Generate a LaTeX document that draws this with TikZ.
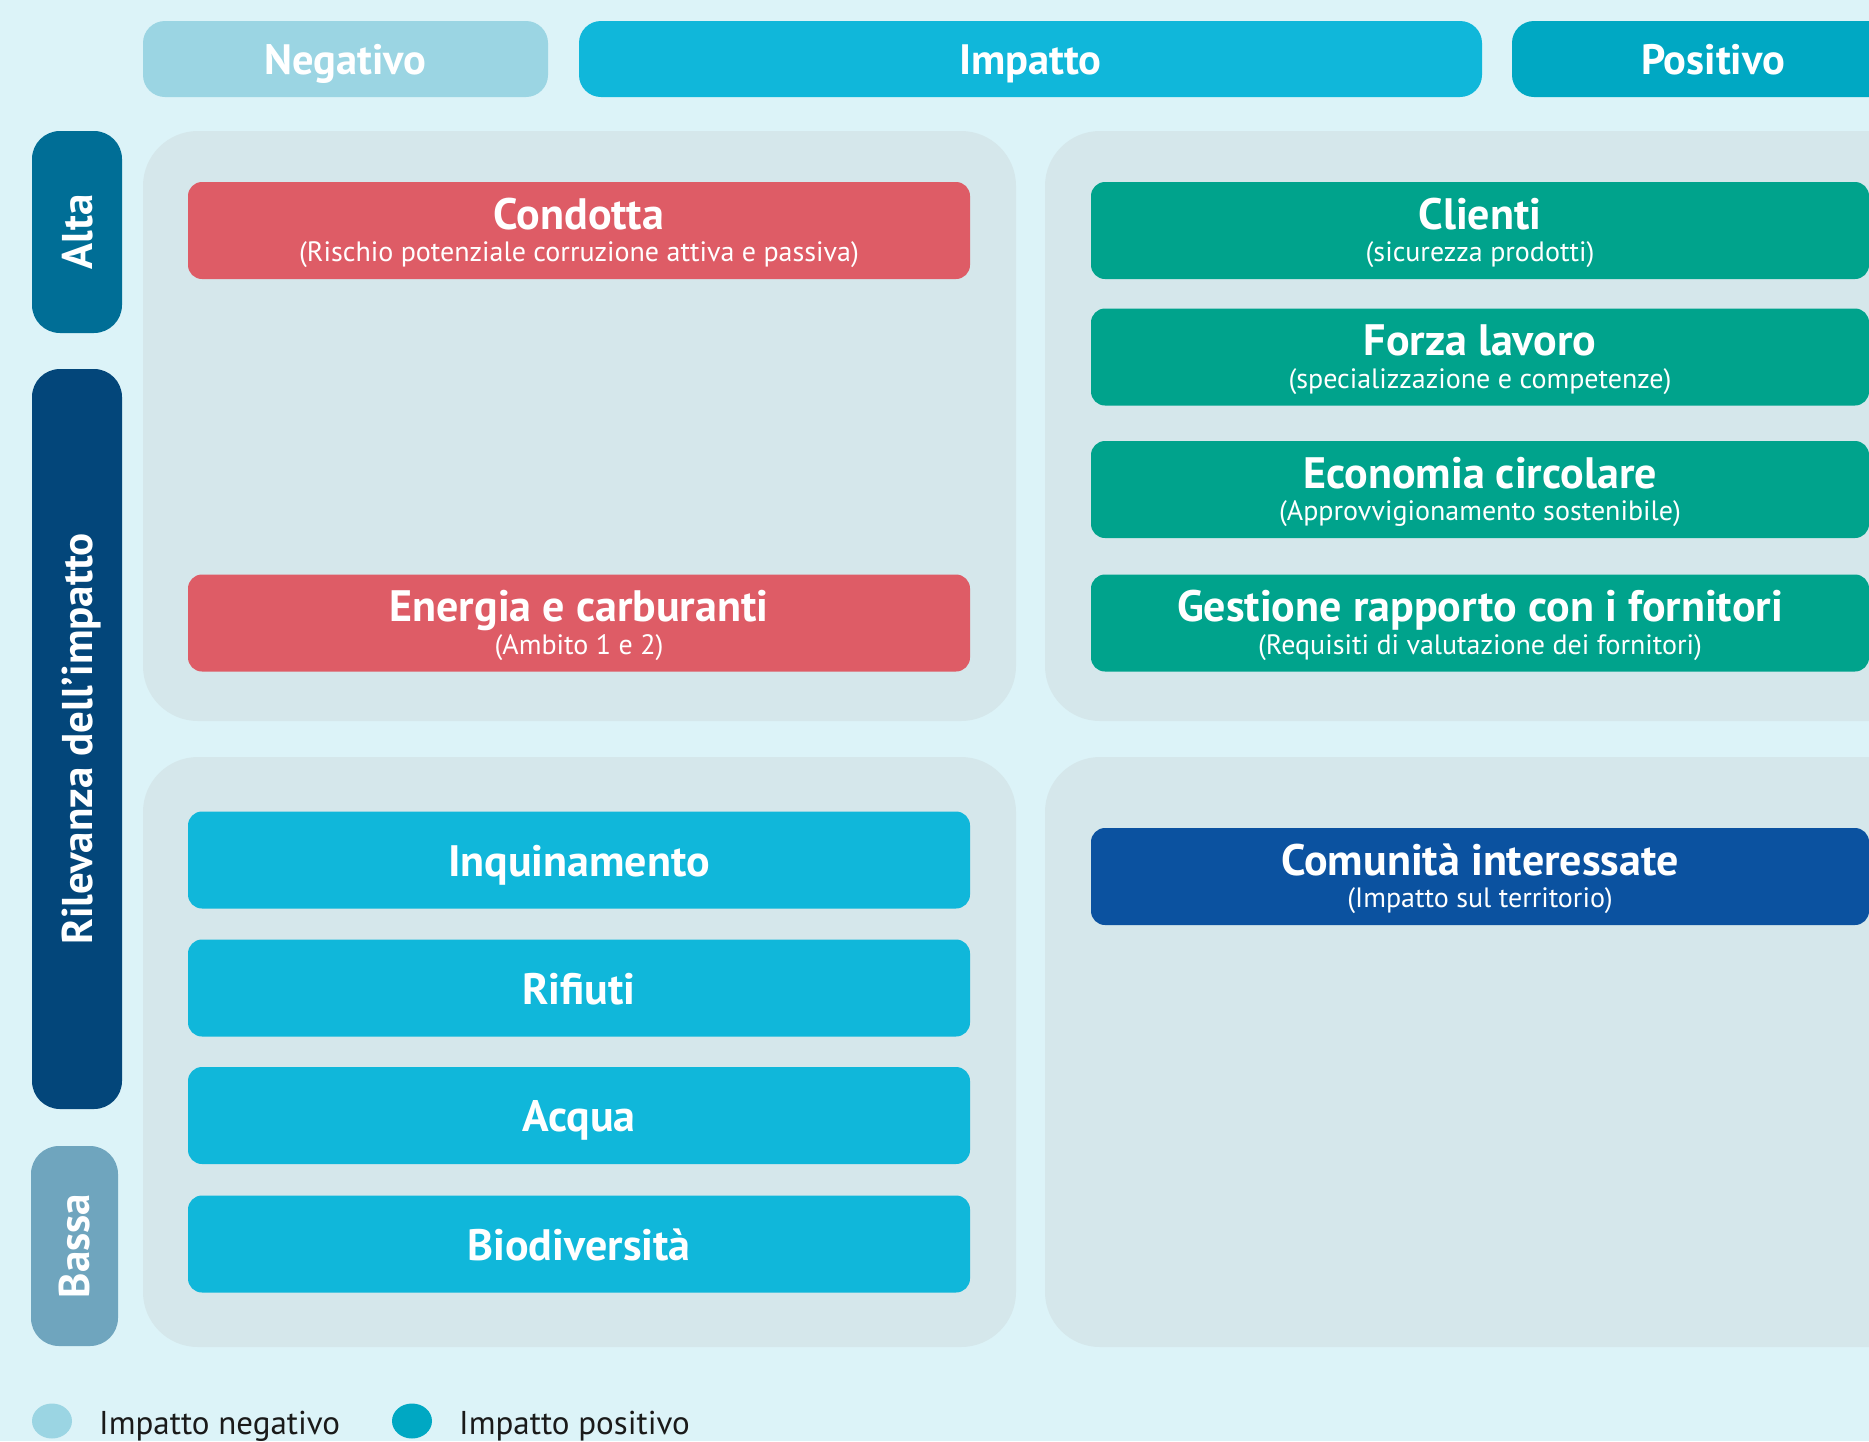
\documentclass[tikz,border=0pt]{standalone}
\usepackage{fontspec}
\setmainfont{PT Sans}
\usetikzlibrary{shapes.geometric}
\definecolor{bg}{HTML}{DCF3F8}
\definecolor{panel}{HTML}{D5E7EB}
\definecolor{negc}{HTML}{9BD5E3}
\definecolor{impc}{HTML}{10B7DA}
\definecolor{posc}{HTML}{00A8C3}
\definecolor{altac}{HTML}{006E96}
\definecolor{rilc}{HTML}{03467A}
\definecolor{bassac}{HTML}{6FA5BE}
\definecolor{redc}{HTML}{DE5C66}
\definecolor{greenc}{HTML}{00A38C}
\definecolor{bluec}{HTML}{0B52A0}
\definecolor{cyanc}{HTML}{10B7DA}
\definecolor{legtext}{HTML}{1A1A1A}
\newcommand\vlabel[1]{\rotatebox{90}{\raisebox{0pt}[30pt][0pt]{#1}}}
\begin{document}
\begin{tikzpicture}[x=1pt,y=-1pt,
  pill/.style={rounded corners=22, minimum height=76, inner sep=0, text=white,
    text height=30, text depth=0,
    font=\fontsize{42.5}{42.5}\selectfont\bfseries},
  side/.style={rounded corners=28, inner sep=0, text=white,
    font=\fontsize{43}{43}\selectfont\bfseries},
  panelbox/.style={fill=panel, rounded corners=55},
  itembox/.style={rounded corners=14, minimum height=97, inner sep=0},
  ttl/.style={font=\fontsize{44}{44}\selectfont\bfseries, text=white, anchor=base, inner sep=0},
  sub/.style={font=\fontsize{28}{28}\selectfont, text=white, anchor=base, inner sep=0},
  legdot/.style={ellipse, minimum width=40, minimum height=35, inner sep=0},
  legtxt/.style={font=\fontsize{33}{33}\selectfont, text=legtext, anchor=base west, inner sep=0}
]
\useasboundingbox (0,0) rectangle (1869,1441);
\clip (0,0) rectangle (1869,1441);
\fill[bg] (0,0) rectangle (1869,1441);

% header
\node[pill, fill=negc, minimum width=405] (neg) at (345.5,59) {Negativo};
\node[pill, fill=impc, minimum width=903] (imp) at (1030.5,59) {Impatto};
\node[pill, fill=posc, minimum width=402] (pos) at (1713,59) {Positivo};

% side labels
\node[side, fill=altac, minimum width=90, minimum height=202] (alta) at (77,232) {\vlabel{Alta}};
\node[side, fill=rilc, minimum width=90, minimum height=740] (ril) at (77,739) {\vlabel{Rilevanza dell’impatto}};
\node[side, fill=bassac, minimum width=87, minimum height=200] (bassa) at (74.5,1246) {\vlabel{Bassa}};

% panels
\fill[panelbox] (143,131) rectangle (1016,721);
\fill[panelbox] (1045,131) rectangle (1930,721);
\fill[panelbox] (143,757) rectangle (1016,1347);
\fill[panelbox] (1045,757) rectangle (1930,1347);

% left boxes
\node[itembox, fill=redc, minimum width=782] (condotta) at (579,230.5) {};
\node[ttl] (condottaT) at (579,229) {Condotta};
\node[sub] (condottaS) at (579,261.5) {(Rischio potenziale corruzione attiva e passiva)};

\node[itembox, fill=redc, minimum width=782] (energia) at (579,623) {};
\node[ttl] (energiaT) at (579,621.5) {Energia e carburanti};
\node[sub] (energiaS) at (579,654) {(Ambito 1 e 2)};

\node[itembox, fill=cyanc, minimum width=782] (inq) at (579,860) {};
\node[ttl] (inqT) at (579,876) {Inquinamento};
\node[itembox, fill=cyanc, minimum width=782] (rif) at (579,988) {};
\node[ttl] (rifT) at (579,1004) {Rifiuti};
\node[itembox, fill=cyanc, minimum width=782] (acq) at (579,1115.5) {};
\node[ttl] (acqT) at (579,1131.5) {Acqua};
\node[itembox, fill=cyanc, minimum width=782] (bio) at (579,1244) {};
\node[ttl] (bioT) at (579,1260) {Biodiversità};

% right boxes
\node[itembox, fill=greenc, minimum width=778] (cli) at (1480,230.5) {};
\node[ttl] (cliT) at (1480,229) {Clienti};
\node[sub] (cliS) at (1480,261.5) {(sicurezza prodotti)};

\node[itembox, fill=greenc, minimum width=778] (forza) at (1480,357) {};
\node[ttl] (forzaT) at (1480,355.5) {Forza lavoro};
\node[sub] (forzaS) at (1480,388) {(specializzazione e competenze)};

\node[itembox, fill=greenc, minimum width=778] (eco) at (1480,489.5) {};
\node[ttl] (ecoT) at (1480,488) {Economia circolare};
\node[sub] (ecoS) at (1480,520.5) {(Approvvigionamento sostenibile)};

\node[itembox, fill=greenc, minimum width=778] (gest) at (1480,623) {};
\node[ttl] (gestT) at (1480,621.5) {Gestione rapporto con i fornitori};
\node[sub] (gestS) at (1480,654) {(Requisiti di valutazione dei fornitori)};

\node[itembox, fill=bluec, minimum width=778] (com) at (1480,876.5) {};
\node[ttl] (comT) at (1480,875) {Comunità interessate};
\node[sub] (comS) at (1480,907.5) {(Impatto sul territorio)};

% legend
\node[legdot, fill=negc] (dotneg) at (52,1421) {};
\node[legtxt] (legneg) at (99,1434) {Impatto negativo};
\node[legdot, fill=posc] (dotpos) at (412,1421) {};
\node[legtxt] (legpos) at (459,1434) {Impatto positivo};
\end{tikzpicture}
\end{document}
